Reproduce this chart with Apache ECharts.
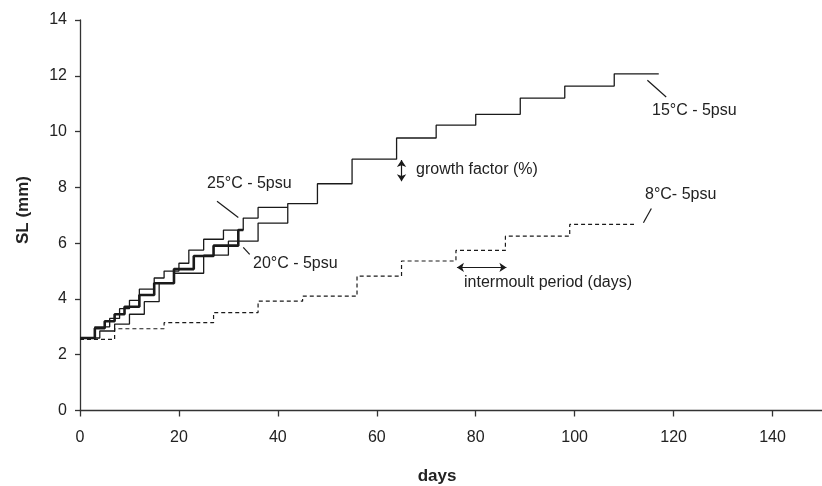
<!DOCTYPE html>
<html>
<head>
<meta charset="utf-8">
<script src="https://cdn.jsdelivr.net/npm/echarts@6/dist/echarts.min.js"></script>
<style>html,body{margin:0;padding:0;background:#fff}#c{width:822px;height:486px}</style>
</head>
<body>
<div id="c"></div>
<script>
// ---- data (days at which each level starts; last entry = end of record) ----
const xTicks = [0, 20, 40, 60, 80, 100, 120, 140];
const yTicks = [0, 2, 4, 6, 8, 10, 12, 14];

const days15 = [0, 4, 7, 10, 13, 16, 19, 25, 30, 36, 42, 48, 55, 64, 72, 80, 89, 98, 108, 117];
const sl15   = [2.6, 2.85, 3.1, 3.45, 3.9, 4.56, 4.92, 5.57, 6.07, 6.72, 7.42, 8.13, 9.01, 9.77, 10.23, 10.62, 11.2, 11.63, 12.07, 12.07];

const days25 = [0, 3, 6, 8, 10, 12, 15, 17, 20, 22, 25, 29, 33, 36, 42];
const sl25   = [2.6, 3.0, 3.3, 3.65, 3.95, 4.35, 4.75, 5.0, 5.28, 5.75, 6.14, 6.47, 6.9, 7.28, 7.28];

const days20 = [0, 3, 5, 7, 9, 12, 15, 19, 23, 27, 32, 33];
const sl20   = [2.6, 2.95, 3.2, 3.45, 3.72, 4.14, 4.56, 5.07, 5.54, 5.91, 6.47, 6.47];

const days8 = [0, 7, 17, 27, 36, 45, 56, 65, 76, 86, 99, 112];
const sl8   = [2.55, 2.93, 3.15, 3.51, 3.92, 4.1, 4.82, 5.36, 5.74, 6.25, 6.67, 6.67];

function pairs(xs, ys) { return xs.map((x, i) => [x, ys[i]]); }

const FONT = '"Liberation Sans", Arial, sans-serif';
const chart = echarts.init(document.getElementById('c'), null, {renderer: 'canvas'});

function stepSeries(name, xs, ys, width, type) {
  return {
    name: name, type: 'line', step: 'end', data: pairs(xs, ys),
    symbol: 'none', animation: false,
    lineStyle: {color: '#1a1a1a', width: width, type: type || 'solid'}
  };
}

const annot = {
  type: 'line', data: [], symbol: 'none', animation: false, silent: true,
  markLine: {
    silent: true, animation: false, label: {show: false},
    lineStyle: {color: '#1a1a1a', width: 1.2, type: 'solid'},
    symbol: ['none', 'none'],
    data: [
      // leaders
      [{coord: [27.7, 7.5]}, {coord: [32, 6.92]}],
      [{coord: [33, 5.85]}, {coord: [34.3, 5.6]}],
      [{coord: [114.7, 11.84]}, {coord: [118.5, 11.24]}],
      [{coord: [115.5, 7.24]}, {coord: [113.9, 6.73]}],
      // growth factor double arrow
      [{coord: [65, 8.98], symbol: 'arrow', symbolSize: 7}, {coord: [65, 8.22], symbol: 'arrow', symbolSize: 7}],
      // intermoult double arrow
      [{coord: [76.2, 5.13], symbol: 'arrow', symbolSize: 7}, {coord: [86.2, 5.13], symbol: 'arrow', symbolSize: 7}]
    ]
  }
};

const option = {
  backgroundColor: '#fff',
  animation: false,
  grid: {left: 80, top: 20, right: -8, bottom: 75.5, containLabel: false},
  xAxis: {
    type: 'value', min: 0, max: 150, interval: 20,
    axisLine: {show: true, onZero: false, lineStyle: {color: '#333', width: 1.3}},
    axisTick: {show: true, length: 6, lineStyle: {color: '#333', width: 1.3}},
    axisLabel: {color: '#222', fontSize: 16, fontFamily: FONT, margin: 19, showMaxLabel: false,
      formatter: v => (xTicks.indexOf(v) >= 0 ? String(v) : '')},
    splitLine: {show: false}
  },
  yAxis: {
    type: 'value', min: 0, max: 14, interval: 2,
    axisLine: {show: true, lineStyle: {color: '#333', width: 1.3}},
    axisTick: {show: true, length: 5, lineStyle: {color: '#333', width: 1.3}},
    axisLabel: {color: '#222', fontSize: 16, fontFamily: FONT, margin: 13,
      formatter: v => (yTicks.indexOf(v) >= 0 ? String(v) : '')},
    splitLine: {show: false}
  },
  graphic: [
    {type: 'text', x: 23, y: 210, rotation: Math.PI / 2,
      style: {text: 'SL (mm)', font: 'bold 17px ' + FONT, fill: '#222', align: 'center', verticalAlign: 'middle'}},
    {type: 'text', x: 437, y: 476,
      style: {text: 'days', font: 'bold 17px ' + FONT, fill: '#222', align: 'center', verticalAlign: 'middle'}},
    {type: 'text', left: 207, top: 176, style: {text: '25°C - 5psu', font: '16px ' + FONT, fill: '#222'}},
    {type: 'text', left: 253, top: 256, style: {text: '20°C - 5psu', font: '16px ' + FONT, fill: '#222'}},
    {type: 'text', left: 652, top: 103, style: {text: '15°C - 5psu', font: '16px ' + FONT, fill: '#222'}},
    {type: 'text', left: 645, top: 187, style: {text: '8°C- 5psu', font: '16px ' + FONT, fill: '#222'}},
    {type: 'text', left: 416, top: 162, style: {text: 'growth factor (%)', font: '16px ' + FONT, fill: '#222'}},
    {type: 'text', left: 464, top: 275, style: {text: 'intermoult period (days)', font: '16px ' + FONT, fill: '#222'}}
  ],
  series: [
    stepSeries('8°C', days8, sl8, 1.2, [4, 3]),
    stepSeries('15°C', days15, sl15, 1.3),
    stepSeries('25°C', days25, sl25, 1.3),
    stepSeries('20°C', days20, sl20, 2.6),
    annot
  ]
};
chart.setOption(option);
</script>
</body>
</html>
